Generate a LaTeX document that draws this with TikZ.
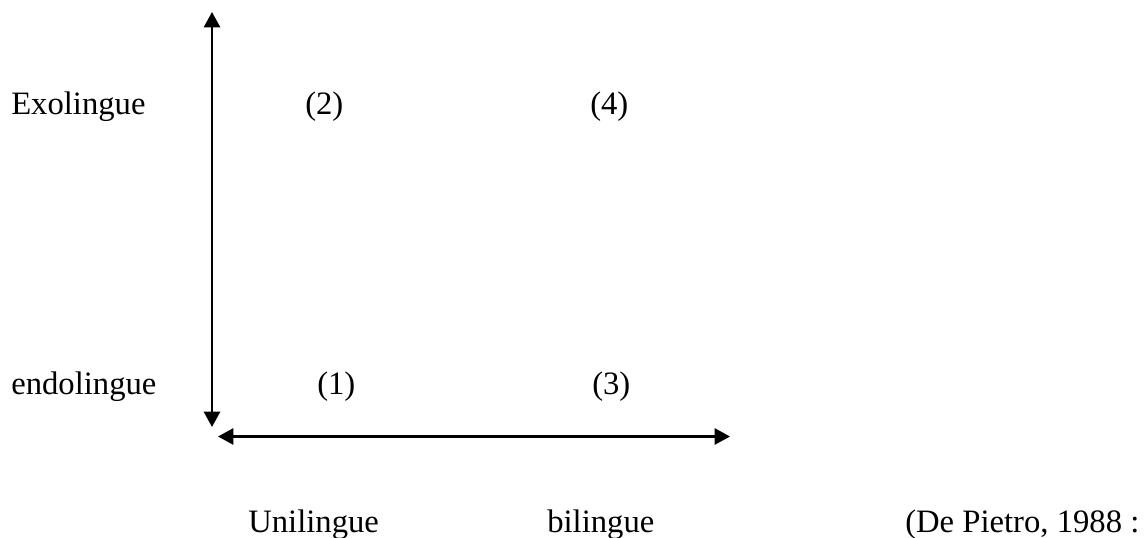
\documentclass[tikz,border=0pt]{standalone}
\usepackage{fontspec}
\setmainfont{Liberation Serif}
\usetikzlibrary{arrows.meta}
\begin{document}
\begin{tikzpicture}[x=0.75pt,y=-0.75pt,
  lbl/.style={anchor=base west,inner sep=0pt,font=\fontsize{24.5}{29}\selectfont},
  axis/.style={line width=2pt,{Triangle[length=11.5pt,width=12pt]}-{Triangle[length=11.5pt,width=12pt]}}]
\useasboundingbox (0,0) rectangle (1145,537);
% axes
\coordinate (vtop) at (212,12);
\coordinate (vbot) at (212,427);
\coordinate (hleft) at (218,436.5);
\coordinate (hright) at (730,436.5);
\draw[axis] (vbot) -- (vtop);
\draw[axis] (hleft) -- (hright);
% row labels
\node[lbl] (exo) at (11,114) {Exolingue};
\node[lbl] (endo) at (11,394) {endolingue};
% quadrants
\node[lbl] (q2) at (305,114) {(2)};
\node[lbl] (q4) at (590,114) {(4)};
\node[lbl] (q1) at (317,394) {(1)};
\node[lbl] (q3) at (592,394) {(3)};
% column labels and source
\node[lbl] (uni) at (248,532) {Unilingue};
\node[lbl] (bi) at (547,532) {bilingue};
\node[lbl] (src) at (905,532) {(De Pietro, 1988 :};
\end{tikzpicture}
\end{document}
